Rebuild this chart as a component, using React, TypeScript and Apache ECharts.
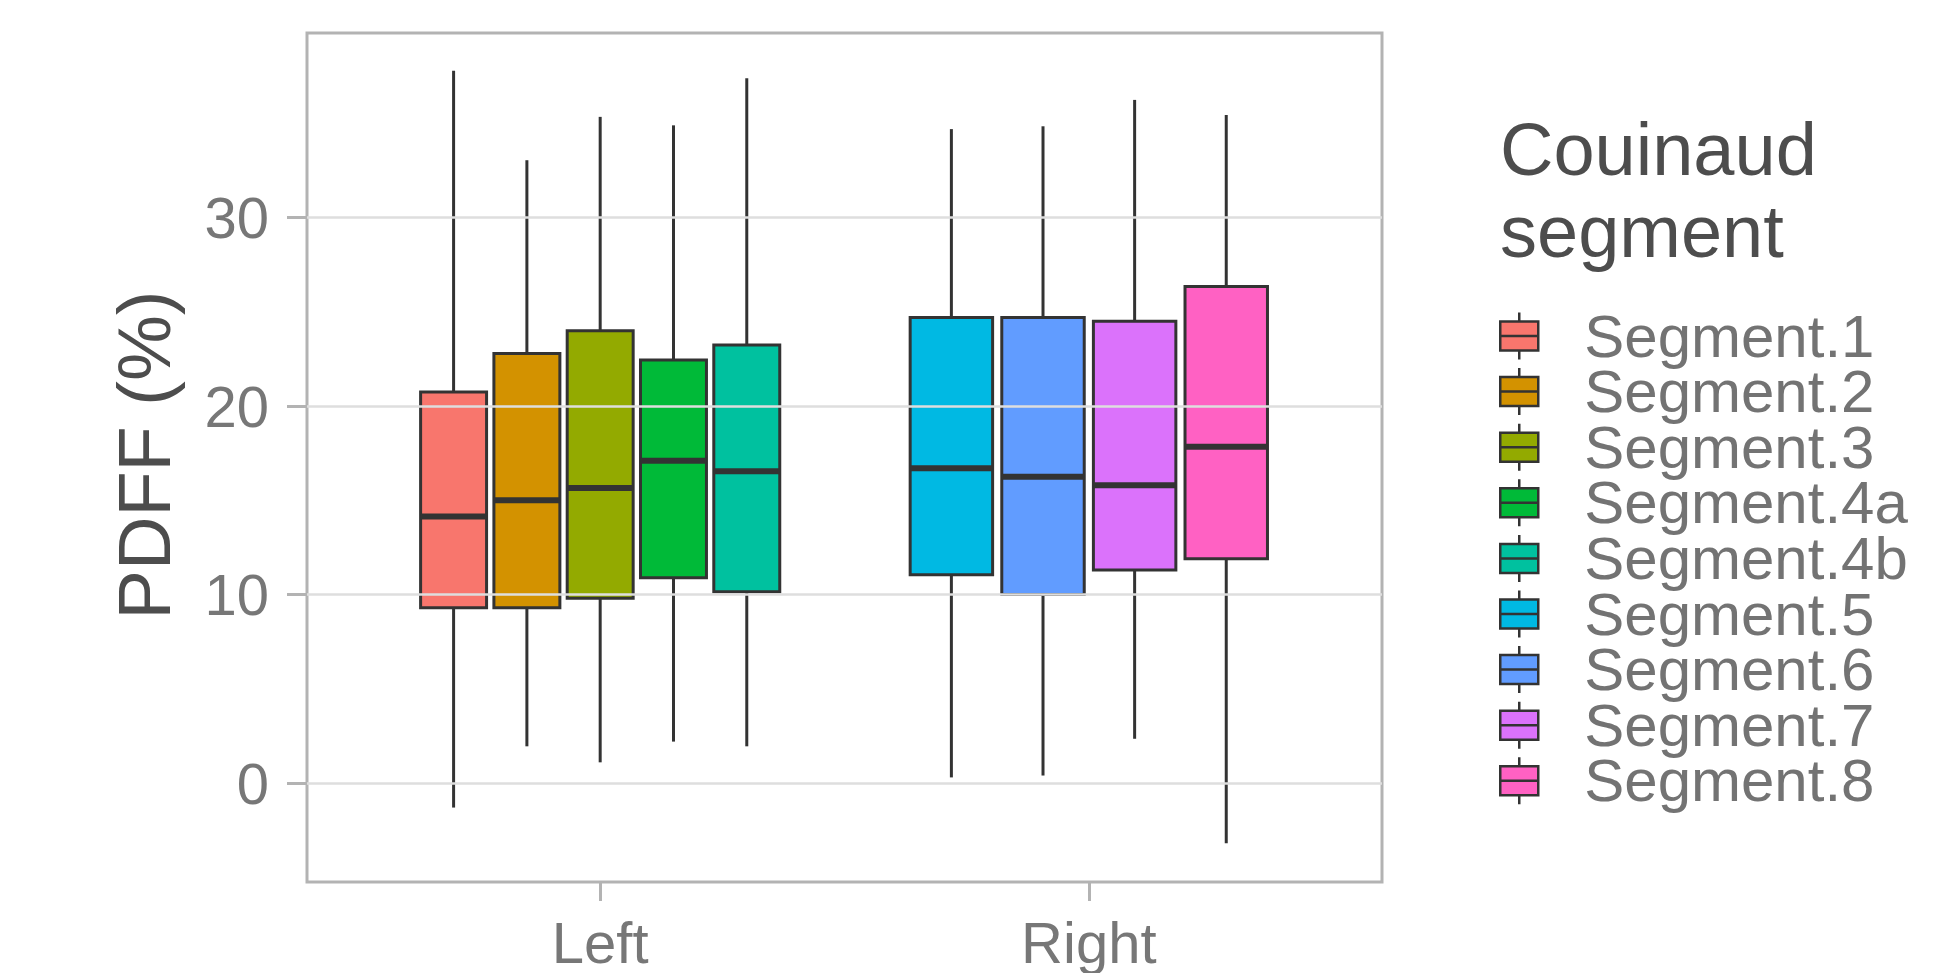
import React, { useEffect, useRef } from 'react';
import * as echarts from 'echarts';

const groups = ['Left', 'Right'];
const segments = ['Segment.1', 'Segment.2', 'Segment.3', 'Segment.4a', 'Segment.4b', 'Segment.5', 'Segment.6', 'Segment.7', 'Segment.8'];
const segmentGroup = ['Left', 'Left', 'Left', 'Left', 'Left', 'Right', 'Right', 'Right', 'Right'];
const colors = ['#F8766D', '#D39200', '#93AA00', '#00BA38', '#00C19F', '#00B9E3', '#619CFF', '#DB72FB', '#FF61C3'];
const lowerWhisker = [-1.3, 1.95, 1.1, 2.2, 1.95, 0.3, 0.4, 2.35, -3.2];
const lowerHinge = [9.3, 9.3, 9.8, 10.9, 10.15, 11.05, 10.0, 11.3, 11.9];
const medians = [14.15, 15.0, 15.65, 17.1, 16.55, 16.7, 16.25, 15.8, 17.85];
const upperHinge = [20.75, 22.8, 24.0, 22.45, 23.25, 24.7, 24.7, 24.5, 26.35];
const upperWhisker = [37.8, 33.05, 35.35, 34.9, 37.4, 34.7, 34.85, 36.25, 35.45];
const yTicks = [0, 10, 20, 30];
const yMin = -5.25;
const yMax = 39.8;

const FONT = '"Liberation Sans", Arial, sans-serif';
const DODGE = 0.75;

export default function App() {
  const ref = useRef<HTMLDivElement>(null);

  useEffect(() => {
    if (!ref.current) return;
    const chart = echarts.init(ref.current, undefined, { renderer: 'svg' });

    const series: any[] = segments.map((name, i) => {
      const g = segmentGroup[i];
      const members = segments.filter((_, j) => segmentGroup[j] === g);
      const k = members.indexOf(name);
      const n = members.length;
      const slot = DODGE / n;
      const center = groups.indexOf(g) + 1 - DODGE / 2 + slot * (k + 0.5);
      const width = slot * 0.9;
      return {
        type: 'custom',
        name,
        z: 3,
        itemStyle: { color: colors[i], borderColor: '#333333', borderWidth: 2.5 },
        encode: { x: 0, y: [1, 2, 3, 4, 5] },
        data: [[center, lowerWhisker[i], lowerHinge[i], medians[i], upperHinge[i], upperWhisker[i], width]],
        renderItem: (params: any, api: any) => {
          const x = api.value(0);
          const w = api.value(6);
          const half = api.size([w, 0])[0] / 2;
          const pLow = api.coord([x, api.value(1)]);
          const pQ1 = api.coord([x, api.value(2)]);
          const pMed = api.coord([x, api.value(3)]);
          const pQ3 = api.coord([x, api.value(4)]);
          const pHigh = api.coord([x, api.value(5)]);
          const stroke = '#333333';
          return {
            type: 'group',
            children: [
              { type: 'line', shape: { x1: pQ3[0], y1: pQ3[1], x2: pHigh[0], y2: pHigh[1] }, style: { stroke, lineWidth: 3 } },
              { type: 'line', shape: { x1: pLow[0], y1: pLow[1], x2: pQ1[0], y2: pQ1[1] }, style: { stroke, lineWidth: 3 } },
              {
                type: 'rect',
                shape: { x: pQ3[0] - half, y: pQ3[1], width: half * 2, height: pQ1[1] - pQ3[1] },
                style: { fill: colors[i], stroke, lineWidth: 3 },
              },
              { type: 'line', shape: { x1: pMed[0] - half, y1: pMed[1], x2: pMed[0] + half, y2: pMed[1] }, style: { stroke, lineWidth: 6 } },
            ],
          };
        },
      };
    });

    series.push({
      type: 'line',
      name: 'gridlines',
      data: [],
      z: 1,
      silent: true,
      markLine: {
        silent: true,
        symbol: ['none', 'none'],
        label: { show: false },
        emphasis: { disabled: true },
        lineStyle: { color: '#dedede', width: 2.5, type: 'solid' },
        data: yTicks.map((v) => ({ yAxis: v })),
      },
    });

    const iconPath = 'path://M0,9 L38,9 L38,38 L0,38 Z M0,23.5 L38,23.5 M19,0 L19,9 M19,38 L19,47 M79,0 L79,0';

    chart.setOption({
      animation: false,
      backgroundColor: '#ffffff',
      textStyle: { fontFamily: FONT },
      grid: {
        left: 307,
        right: 577,
        top: 33,
        bottom: 91,
        show: true,
        borderColor: '#b3b3b3',
        borderWidth: 3,
        backgroundColor: 'transparent',
        containLabel: false,
        outerBoundsMode: 'none',
      },
      title: {
        text: 'Couinaud\nsegment',
        left: 1500,
        top: 108,
        padding: 0,
        textStyle: { fontFamily: FONT, fontSize: 74, lineHeight: 82, fontWeight: 'normal', color: '#4d4d4d' },
      },
      legend: {
        orient: 'vertical',
        left: 1499,
        top: 306,
        padding: 0,
        itemWidth: 79,
        itemHeight: 47,
        itemGap: -4.4,
        icon: iconPath,
        selectedMode: false,
        itemStyle: { borderColor: '#333333', borderWidth: 2.5 },
        textStyle: { fontFamily: FONT, fontSize: 60, lineHeight: 47, color: '#737373' },
        data: segments.map((name, i) => ({ name, itemStyle: { color: colors[i] } })),
      },
      xAxis: {
        type: 'value',
        min: 0.4,
        max: 2.6,
        axisLine: { show: false, onZero: false },
        splitLine: { show: false },
        axisTick: { show: true, length: 19, customValues: [1, 2], lineStyle: { color: '#b3b3b3', width: 3 } },
        axisLabel: {
          customValues: [1, 2],
          formatter: (v: number) => groups[Math.round(v) - 1] ?? '',
          fontFamily: FONT,
          fontSize: 58,
          color: '#777777',
          margin: 31,
        },
      },
      yAxis: {
        type: 'value',
        min: yMin,
        max: yMax,
        axisLine: { show: false, onZero: false },
        splitLine: { show: false },
        axisTick: { show: true, length: 20, customValues: yTicks, lineStyle: { color: '#b3b3b3', width: 3 } },
        axisLabel: {
          customValues: yTicks,
          fontFamily: FONT,
          fontSize: 58,
          color: '#777777',
          margin: 38,
        },
      },
      graphic: [
        {
          type: 'text',
          x: 144,
          y: 455,
          rotation: Math.PI / 2,
          style: {
            text: 'PDFF (%)',
            fontFamily: FONT,
            fontSize: 74,
            fill: '#4d4d4d',
            align: 'center',
            verticalAlign: 'middle',
          },
        },
      ],
      series,
    });

    return () => chart.dispose();
  }, []);

  return (
    <div
      ref={ref}
      style={{ position: 'fixed', left: 0, top: 0, width: 1959, height: 973, background: '#fff' }}
    />
  );
}
